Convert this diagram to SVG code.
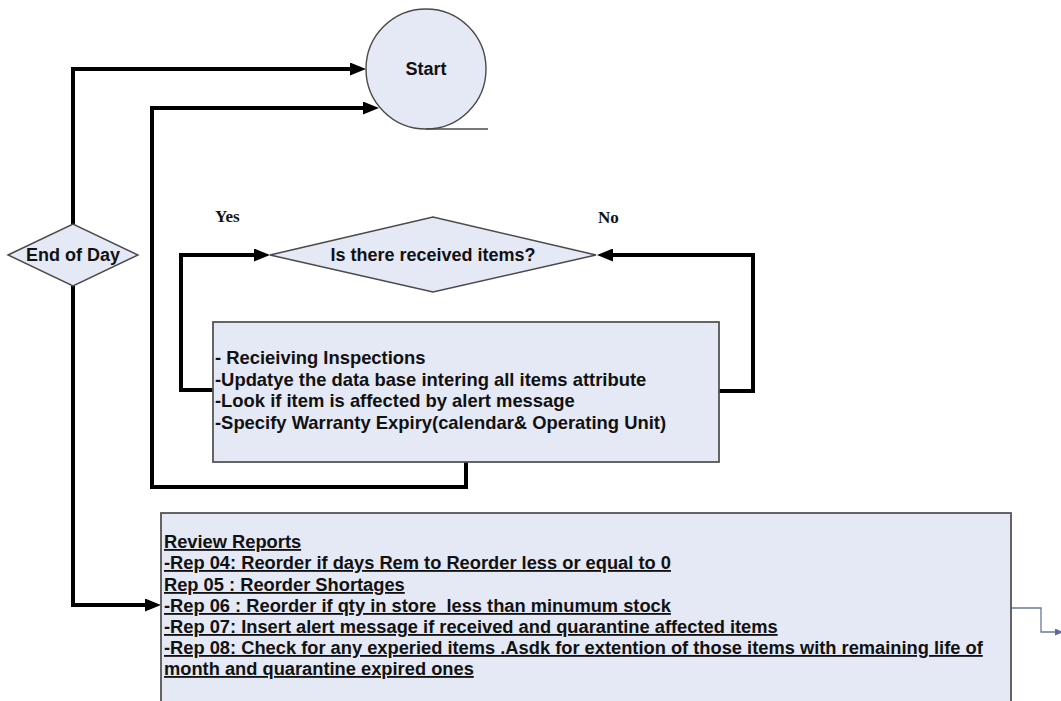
<svg xmlns="http://www.w3.org/2000/svg" width="1061" height="701" viewBox="0 0 1061 701">
  <style>
    .shape { fill: #e5e8f5; stroke: #4a4a4a; stroke-width: 1.4; }
    .box { fill: #e5e8f5; stroke: #555555; stroke-width: 1.8; }
    .flow { fill: none; stroke: #000000; stroke-width: 4; stroke-linejoin: miter; }
    .thin { fill: none; stroke: #6a7898; stroke-width: 1.3; }
    .label { font-family: "Liberation Sans", Arial, sans-serif; font-weight: bold; fill: #111111; }
    .serif { font-family: "Liberation Serif", "Times New Roman", serif; font-weight: bold; font-size: 17px; fill: #111111; }
    .body { font-family: "Liberation Sans", Arial, sans-serif; font-weight: bold; font-size: 18.4px; fill: #111111; }
    .rep { font-family: "Liberation Sans", Arial, sans-serif; font-weight: bold; font-size: 18.3px; fill: #111111; text-decoration: underline; white-space: pre; }
  </style>
  <defs>
    <marker id="arrow" markerUnits="userSpaceOnUse" markerWidth="16" markerHeight="13" refX="4" refY="6.5" orient="auto">
      <path d="M0,0 L16,6.5 L0,13 Z" fill="#000000"/>
    </marker>
    <marker id="arrowSmall" markerUnits="userSpaceOnUse" markerWidth="8" markerHeight="7" refX="1" refY="3.5" orient="auto">
      <path d="M0,0 L8,3.5 L0,7 Z" fill="#5a6a9a"/>
    </marker>
  </defs>

  <rect width="1061" height="701" fill="#ffffff"/>

  <!-- connectors -->
  <g id="connectors">
    <path class="flow" d="M73,224 V69 H354" marker-end="url(#arrow)"/>
    <path class="flow" d="M466,462 V487 H152 V108 H367" marker-end="url(#arrow)"/>
    <path class="flow" d="M213,390 H181 V255 H258" marker-end="url(#arrow)"/>
    <path class="flow" d="M719,391 H753 V255 H609" marker-end="url(#arrow)"/>
    <path class="flow" d="M73,286 V605 H149" marker-end="url(#arrow)"/>
    <path class="thin" d="M1011,608 H1041 V632 H1056" marker-end="url(#arrowSmall)"/>
  </g>

  <!-- start terminal -->
  <g id="start">
    <circle class="shape" cx="426" cy="69" r="60"/>
    <line x1="426" y1="129" x2="488" y2="129" stroke="#4a4a4a" stroke-width="1.3"/>
    <text class="label" x="426" y="75" font-size="18" text-anchor="middle">Start</text>
  </g>

  <!-- end of day decision -->
  <g id="end-of-day">
    <polygon class="shape" points="8,255 73,224 138,255 73,286"/>
    <text class="label" x="73" y="261" font-size="18" text-anchor="middle">End of Day</text>
  </g>

  <!-- received items decision -->
  <g id="received-items">
    <polygon class="shape" points="270,255 433,217 596,255 433,292"/>
    <text class="label" x="433" y="261" font-size="18" text-anchor="middle">Is there received items?</text>
  </g>

  <!-- branch labels -->
  <g id="branch-labels">
    <text class="serif" x="215" y="222">Yes</text>
    <text class="serif" x="598" y="223">No</text>
  </g>

  <!-- receiving process -->
  <g id="receiving">
    <rect class="box" x="213" y="322" width="506" height="140"/>
    <text class="body" x="215" y="364">- Recieiving Inspections</text>
    <text class="body" x="215" y="386">-Updatye the data base intering all items attribute</text>
    <text class="body" x="215" y="407">-Look if item is affected by alert message</text>
    <text class="body" x="215" y="429">-Specify Warranty Expiry(calendar&amp; Operating Unit)</text>
  </g>

  <!-- review reports -->
  <g id="review-reports">
    <rect class="box" x="161" y="513" width="850" height="200"/>
    <text class="rep" x="164" y="548">Review Reports</text>
    <text class="rep" x="164" y="569">-Rep 04: Reorder if days Rem to Reorder less or equal to 0</text>
    <text class="rep" x="164" y="591">Rep 05 : Reorder Shortages</text>
    <text class="rep" x="164" y="612">-Rep 06 : Reorder if qty in store  less than minumum stock</text>
    <text class="rep" x="164" y="633">-Rep 07: Insert alert message if received and quarantine affected items</text>
    <text class="rep" x="164" y="654">-Rep 08: Check for any experied items .Asdk for extention of those items with remaining life of</text>
    <text class="rep" x="164" y="675">month and quarantine expired ones</text>
  </g>
</svg>
